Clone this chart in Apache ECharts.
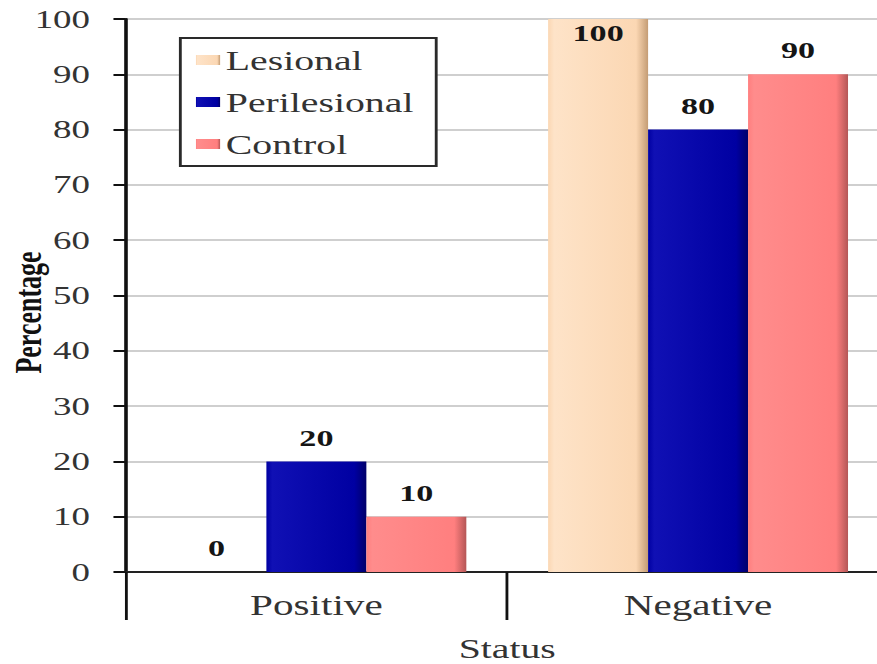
<!DOCTYPE html>
<html>
<head>
<meta charset="utf-8">
<script src="https://cdn.jsdelivr.net/npm/echarts@6/dist/echarts.min.js"></script>
<style>
  html, body { margin: 0; padding: 0; background: #fff; overflow: hidden; }
  /* the chart is laid out narrow and widened horizontally as a whole */
  #chart { width: 630px; height: 664px; transform: scaleX(1.42); transform-origin: 0 0; }
</style>
</head>
<body>
<div id="chart"></div>
<script>
// Status categories and group percentages
const categories = ['Positive', 'Negative'];
const lesional = [0, 100];
const perilesional = [20, 80];
const control = [10, 90];
const seriesNames = ['Lesional', 'Perilesional', 'Control'];
const yMin = 0, yMax = 100, yStep = 10;
const xAxisTitle = 'Status';
const yAxisTitle = 'Percentage';

const SERIF = '"Liberation Serif", "Times New Roman", serif';

function barFill(light, base, edge) {
  return new echarts.graphic.LinearGradient(0, 0, 1, 0, [
    { offset: 0, color: base },
    { offset: 0.06, color: light },
    { offset: 0.88, color: base },
    { offset: 1, color: edge }
  ]);
}

const fills = [
  barFill('#FEE3C8', '#FBD7B3', '#C49C74'),
  barFill('#1010B4', '#0000A2', '#00006A'),
  barFill('#FF8C8C', '#FF7F7F', '#B45656')
];

// a value that reaches the top of the scale gets its label inside the bar
function toData(values) {
  return values.map(v => v >= yMax
    ? { value: v, label: { position: 'insideTop', distance: 2 } }
    : { value: v });
}

const valueLabel = {
  show: true,
  position: 'top',
  distance: 12,
  fontFamily: SERIF,
  fontWeight: 'bold',
  fontSize: 24,
  color: '#151515'
};

const chart = echarts.init(document.getElementById('chart'), null, { renderer: 'svg' });

chart.setOption({
  animation: false,
  backgroundColor: '#ffffff',
  grid: [
    { left: 88.4, right: 4, top: 19, bottom: 92, containLabel: false, outerBoundsMode: 'none',
      show: true, borderColor: '#2a2a2a', borderWidth: 2 },
    { left: 88.4, right: 4, top: 572, height: 92, containLabel: false, outerBoundsMode: 'none' }
  ],
  legend: {
    orient: 'vertical',
    left: 127,
    top: 38,
    data: seriesNames,
    backgroundColor: '#ffffff',
    borderColor: '#2a2a2a',
    borderWidth: 2,
    padding: [8, 16, 8, 11],
    itemGap: 14,
    itemWidth: 17,
    itemHeight: 10,
    icon: 'rect',
    textStyle: { fontFamily: SERIF, fontSize: 28, color: '#333', padding: [0, 0, 0, -1] }
  },
  xAxis: [
    {
      type: 'category',
      data: categories,
      gridIndex: 0,
      position: 'bottom',
      axisLine: { show: true, lineStyle: { color: '#222', width: 2 } },
      axisTick: { show: true, length: 48, lineStyle: { color: '#111', width: 2 } },
      axisLabel: { fontFamily: SERIF, fontSize: 29, color: '#333', margin: 19 }
    },
    {
      type: 'category',
      data: [xAxisTitle],
      gridIndex: 1,
      position: 'top',
      axisLine: { show: false },
      axisTick: { show: true, inside: true, length: 92, lineStyle: { color: '#111', width: 2 } },
      axisLabel: { inside: true, fontFamily: SERIF, fontSize: 28, color: '#333', margin: 62 }
    }
  ],
  yAxis: [
    {
      type: 'value',
      gridIndex: 0,
      min: yMin,
      max: yMax,
      interval: yStep,
      name: yAxisTitle,
      nameLocation: 'middle',
      nameGap: 55,
      nameMoveOverlap: false,
      nameTextStyle: { fontFamily: SERIF, fontWeight: 'bold', fontSize: 26, color: '#111', padding: [0, 34, 0, 0] },
      axisLine: { show: true, lineStyle: { color: '#111', width: 2 } },
      axisTick: { show: true, length: 8.5, lineStyle: { color: '#111', width: 2 } },
      axisLabel: { fontFamily: SERIF, fontSize: 26, color: '#333', margin: 25 },
      splitLine: { show: true, lineStyle: { color: '#cfcfcf', width: 2 } }
    },
    { type: 'value', gridIndex: 1, show: false }
  ],
  series: [
    { name: seriesNames[0], type: 'bar', data: toData(lesional), barWidth: 70.4, barGap: '0%',
      itemStyle: { color: fills[0] }, label: valueLabel },
    { name: seriesNames[1], type: 'bar', data: toData(perilesional), barWidth: 70.4, barGap: '0%',
      itemStyle: { color: fills[1] }, label: valueLabel },
    { name: seriesNames[2], type: 'bar', data: toData(control), barWidth: 70.4, barGap: '0%',
      itemStyle: { color: fills[2] }, label: valueLabel }
  ]
});
</script>
</body>
</html>
